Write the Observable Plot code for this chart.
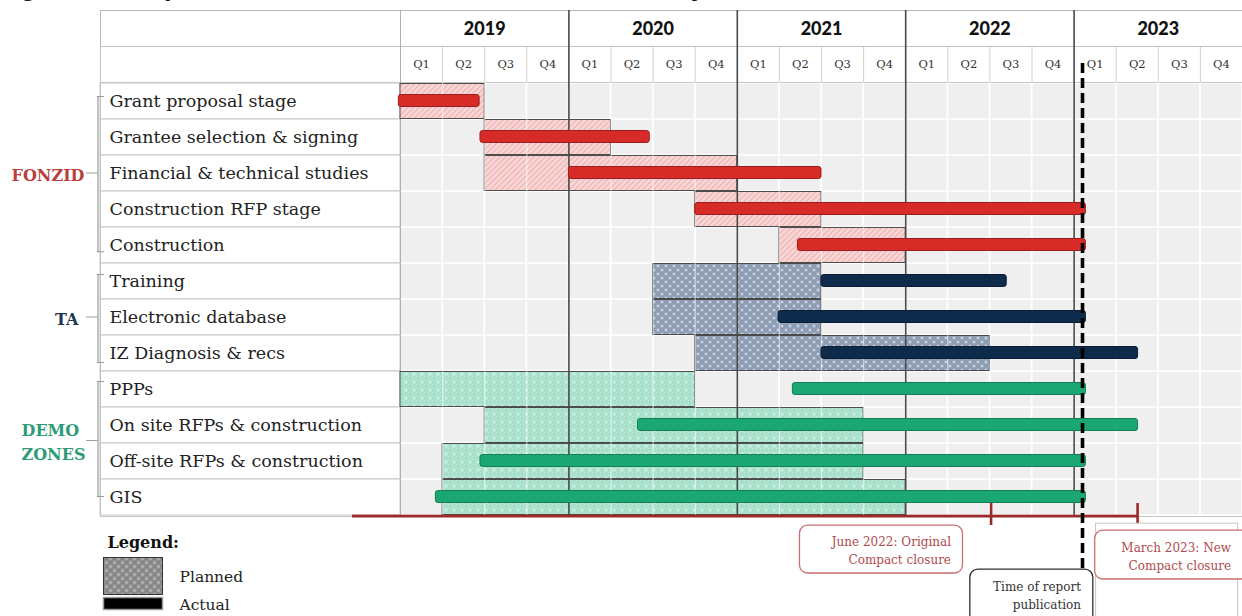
<!DOCTYPE html>
<html>
<head>
<meta charset="utf-8">
<script src="https://cdn.jsdelivr.net/npm/d3@7"></script>
<script src="https://cdn.jsdelivr.net/npm/@observablehq/plot@0.6"></script>
<style>
html,body{margin:0;padding:0;background:#fff;overflow:hidden;}
#wrap{position:relative;width:1242px;height:616px;overflow:hidden;}
#title{position:absolute;left:-4px;top:-27px;font:bold 27px "Liberation Sans",Arial,sans-serif;line-height:1;white-space:nowrap;color:#111;z-index:2;}
#chart{position:absolute;left:0;top:0;z-index:1;}
</style>
</head>
<body>
<div id="wrap">
<div id="title">Figure 12: Implementation timeline across each activity</div>
<div id="chart"></div>
</div>
<script>
// ---------------- data ----------------
const tasks = [
  "Grant proposal stage",
  "Grantee selection & signing",
  "Financial & technical studies",
  "Construction RFP stage",
  "Construction",
  "Training",
  "Electronic database",
  "IZ Diagnosis & recs",
  "PPPs",
  "On site RFPs & construction",
  "Off-site RFPs & construction",
  "GIS"
];
const taskGroup = ["FONZID","FONZID","FONZID","FONZID","FONZID","TA","TA","TA","DEMO","DEMO","DEMO","DEMO"];
// decimal years
const plannedStart = [2019.0, 2019.5, 2019.5, 2020.75, 2021.25, 2020.5, 2020.5, 2020.75, 2019.0, 2019.5, 2019.25, 2019.25];
const plannedEnd   = [2019.5, 2020.25, 2021.0, 2021.5, 2022.0, 2021.5, 2021.5, 2022.5, 2020.75, 2021.75, 2021.75, 2022.0];
const actualStart  = [2018.99, 2019.475, 2020.0, 2020.75, 2021.36, 2021.5, 2021.245, 2021.5, 2021.33, 2020.41, 2019.475, 2019.21];
const actualEnd    = [2019.47, 2020.48, 2021.5, 2023.07, 2023.07, 2022.6, 2023.07, 2023.38, 2023.07, 2023.38, 2023.07, 2023.07];

const years = [2019, 2020, 2021, 2022, 2023];
const quarterLabels = ["Q1", "Q2", "Q3", "Q4"];
const reportDate = 2023.05;
const timelineStart = 2018.715;
const milestones = [2022.51, 2023.38];
const milestoneLabels = ["June 2022: Original\nCompact closure", "March 2023: New\nCompact closure"];
const reportLabel = "Time of report\npublication";

const groupNames = ["FONZID", "TA", "DEMO"];
const groupLabels = ["FONZID", "TA", "DEMO\nZONES"];
const groupColors = ["#b83f3e", "#1f3553", "#2e9b76"];
const plannedFills = ["url(#pHatch)", "url(#pTA)", "url(#pDemo)"];
const actualFills = ["#d62b27", "#0f2b4c", "#1ba774"];
const actualStrokes = ["#9c1f1d", "#0a1d33", "#137e57"];

const legendTitle = "Legend:";
const legendItems = ["Planned", "Actual"];

// ---------------- derived tables ----------------
const rows = tasks.map((t, i) => ({
  task: t, g: groupNames.indexOf(taskGroup[i]),
  ps: plannedStart[i], pe: plannedEnd[i], as: actualStart[i], ae: actualEnd[i]
}));
const quarterCells = years.flatMap(y => quarterLabels.map((q, k) => ({q: y + k / 4, label: q})));
const bgCells = tasks.flatMap(t => quarterCells.map(c => ({task: t, q: c.q})));
const innerQuarterBounds = quarterCells.map(c => c.q).filter(q => q % 1 !== 0);
const yearBounds = years.slice(1);

const W = 1242, H = 616, MT = 82, MB = 100, ML = 400;
const BW = (H - MT - MB) / tasks.length;
const lastTask = tasks[tasks.length - 1];
const serif = "DejaVu Serif";

// bracket geometry per group
const groupSpec = [
  {first: 0, last: 4, mid: 2, top: 13, bottom: 10.8, tickY: BW/2, labelDx: -316, anchor: "end", dy: 0},
  {first: 5, last: 7, mid: 6, top: 11, bottom: 8, tickY: BW/2, labelDx: -322, anchor: "end", dy: 0},
  {first: 8, last: 11, mid: 9, top: 10, bottom: 18, tickY: BW/2 + 15.4, labelDx: -379, anchor: "start", dy: 14.4}
];

const bracketMarks = groupSpec.flatMap((s, gi) => {
  const d = [gi];
  return [
    Plot.ruleX(d, {x: () => 2019, y1: () => tasks[s.first], y2: () => tasks[s.last], dx: -302.5,
      insetTop: s.top, insetBottom: s.bottom, stroke: "#8a8a8a", strokeWidth: 1}),
    Plot.barX(d, {x1: () => 2019, x2: () => 2019, y: () => tasks[s.first], fill: "#8a8a8a",
      insetLeft: -303, insetRight: 296, insetTop: s.top, insetBottom: BW - s.top - 1}),
    Plot.barX(d, {x1: () => 2019, x2: () => 2019, y: () => tasks[s.last], fill: "#8a8a8a",
      insetLeft: -303, insetRight: 296, insetTop: BW - s.bottom - 1, insetBottom: s.bottom}),
    Plot.barX(d, {x1: () => 2019, x2: () => 2019, y: () => tasks[s.mid], fill: "#8a8a8a",
      insetLeft: -314, insetRight: 302.5, insetTop: s.tickY - 0.5, insetBottom: BW - s.tickY - 0.5}),
    Plot.text(d, {x: () => 2019, y: () => tasks[s.mid], text: () => groupLabels[gi], dx: s.labelDx, dy: s.dy,
      textAnchor: s.anchor, fill: groupColors[gi], fontFamily: serif, fontWeight: "bold", fontSize: 16, lineHeight: 1.5})
  ];
});

const chart = Plot.plot({
  width: W, height: H,
  marginTop: MT, marginBottom: MB, marginLeft: ML, marginRight: 0,
  x: {domain: [2019, 2024], axis: null},
  y: {type: "band", domain: tasks, padding: 0, axis: null},
  color: {type: "identity"},
  style: {background: "white", overflow: "visible"},
  marks: [
    // label column cells
    Plot.barX(tasks, {x1: () => 2019, x2: () => 2019, y: d => d, insetLeft: -300, fill: "white", stroke: "#c6c6c6", strokeWidth: 1}),
    // grey grid cells
    Plot.barX(bgCells, {x1: "q", x2: d => d.q + 0.25, y: "task", fill: "#efefef", inset: 0.8}),
    // header quarter separators
    Plot.ruleX(innerQuarterBounds, {x: d => d, insetTop: -36, insetBottom: H - MT - MB, stroke: "#cfcfcf"}),
    // header frame lines
    Plot.frame({stroke: "#b8b8b8", insetTop: -72, insetLeft: -300}),
    Plot.frame({stroke: "#c4c4c4", insetTop: -36, insetLeft: -300}),
    Plot.frame({stroke: "#c4c4c4", insetLeft: -300}),
    Plot.ruleX([2019], {x: d => d, insetTop: -72, stroke: "#b0b0b0"}),
    // planned
    Plot.barX(rows, {x1: "ps", x2: "pe", y: "task", fill: d => plannedFills[d.g], stroke: "#3c3c3c", strokeWidth: 0.9, insetTop: 0.5, insetBottom: 0.5}),
    // white quarter lines over body
    Plot.ruleX(innerQuarterBounds, {x: d => d, stroke: "white", strokeWidth: 1.3, strokeOpacity: 0.55}),
    // year lines
    Plot.ruleX(yearBounds, {x: d => d, insetTop: -72, stroke: "#4a4a4a", strokeWidth: 1.6}),
    // bottom compact timeline
    Plot.barX([0], {x1: () => timelineStart, x2: () => milestones[1], y: () => lastTask, fill: "#9b2b2b", insetTop: BW - 0.5, insetBottom: -2.5}),
    Plot.barX(milestones, {x1: d => d, x2: d => d, y: () => lastTask, fill: "#9b2b2b", insetLeft: -1.3, insetRight: -1.3, insetTop: 24, insetBottom: -10}),
    // actual
    Plot.barX(rows, {x1: "as", x2: "ae", y: "task", fill: d => actualFills[d.g], stroke: d => actualStrokes[d.g], strokeWidth: 1, rx: 2.5, insetTop: 11.5, insetBottom: 12.5}),
    // report line
    Plot.ruleX([reportDate], {x: d => d, stroke: "#000", strokeWidth: 3.6, strokeDasharray: "10,5", insetTop: -19, insetBottom: -100}),
    // annotation panels
    Plot.barX([milestones[1]], {x1: d => d, x2: d => d, y: () => lastTask, fill: "white", stroke: "#c8c8c8", insetLeft: -42, insetRight: -100, insetTop: 44.2, insetBottom: -110}),
    Plot.barX([milestones[0]], {x1: d => d, x2: d => d, y: () => lastTask, fill: "white", stroke: "#cc6e70", strokeWidth: 1.3, rx: 8, insetLeft: -191.6, insetRight: 28.6, insetTop: 46.2, insetBottom: -58}),
    Plot.text([0], {x: () => milestones[0], y: () => lastTask, text: () => milestoneLabels[0], dx: -40.6, dy: 51.6, textAnchor: "end", fill: "#b04a4c", fontFamily: serif, fontSize: 12, lineHeight: 1.5}),
    Plot.barX([reportDate], {x1: d => d, x2: d => d, y: () => lastTask, fill: "white", stroke: "#2e2e2e", strokeWidth: 1.3, rx: 8, insetLeft: -112.2, insetRight: -10.8, insetTop: 90.2, insetBottom: -112}),
    Plot.text([0], {x: () => reportDate, y: () => lastTask, text: () => reportLabel, dx: -1.5, dy: 97, textAnchor: "end", fill: "#333", fontFamily: serif, fontSize: 12, lineHeight: 1.5}),
    Plot.barX([milestones[1]], {x1: d => d, x2: d => d, y: () => lastTask, fill: "white", stroke: "#cc6e70", strokeWidth: 1.3, rx: 8, insetLeft: -42.9, insetRight: -115, insetTop: 51.2, insetBottom: -64}),
    Plot.text([0], {x: () => milestones[1], y: () => lastTask, text: () => milestoneLabels[1], dx: 93, dy: 58, textAnchor: "end", fill: "#b04a4c", fontFamily: serif, fontSize: 12, lineHeight: 1.5}),
    // header text
    Plot.text(years, {x: d => d + 0.5, text: d => String(d), frameAnchor: "top", lineAnchor: "middle", dy: -53, fontFamily: "Lato", fontWeight: 900, fontSize: 18, fill: "#111"}),
    Plot.text(quarterCells, {x: d => d.q + 0.125, text: "label", frameAnchor: "top", lineAnchor: "middle", dy: -18, fontFamily: serif, fontSize: 11.5, fill: "#333"}),
    // row labels
    Plot.text(tasks, {x: () => 2019, y: d => d, text: d => d, dx: -291, textAnchor: "start", fontFamily: serif, fontSize: 17.5, fill: "#222"}),
    // groups & brackets
    ...bracketMarks,
    // legend
    Plot.text([legendTitle], {text: d => d, frameAnchor: "bottom-left", lineAnchor: "middle", dx: -293, dy: 26, textAnchor: "start", fontFamily: serif, fontWeight: "bold", fontSize: 16, fill: "#111"}),
    Plot.frame({fill: "url(#pLegend)", stroke: "#333", insetLeft: -297, insetRight: W - 162, insetTop: 475, insetBottom: -78}),
    Plot.frame({fill: "#000", stroke: "#9a9a9a", strokeWidth: 1.5, insetLeft: -297, insetRight: W - 162, insetTop: 515, insetBottom: -93}),
    Plot.text([legendItems[0]], {text: d => d, frameAnchor: "bottom-left", lineAnchor: "middle", dx: -221, dy: 61, textAnchor: "start", fontFamily: serif, fontSize: 15.5, fill: "#222"}),
    Plot.text([legendItems[1]], {text: d => d, frameAnchor: "bottom-left", lineAnchor: "middle", dx: -221, dy: 89, textAnchor: "start", fontFamily: serif, fontSize: 15.5, fill: "#222"})
  ]
});

// patterns
chart.insertAdjacentHTML("afterbegin", `
<defs>
  <pattern id="pHatch" width="4" height="4" patternUnits="userSpaceOnUse" patternTransform="rotate(45)">
    <rect width="4" height="4" fill="#f9d6d6"/>
    <line x1="0" y1="0" x2="0" y2="4" stroke="#e38b8b" stroke-width="1.1"/>
  </pattern>
  <pattern id="pTA" width="8" height="8" patternUnits="userSpaceOnUse">
    <rect width="8" height="8" fill="#8e9db4"/>
    <rect x="0" y="0" width="4" height="4" fill="#98a7bc"/>
    <rect x="4" y="4" width="4" height="4" fill="#98a7bc"/>
    <circle cx="2" cy="2" r="0.9" fill="#e4eaf2"/>
    <circle cx="6" cy="6" r="0.9" fill="#e4eaf2"/>
  </pattern>
  <pattern id="pDemo" width="8" height="8" patternUnits="userSpaceOnUse">
    <rect width="8" height="8" fill="#a9e0cc"/>
    <rect x="0" y="0" width="4" height="4" fill="#b6e6d4"/>
    <rect x="4" y="4" width="4" height="4" fill="#b6e6d4"/>
    <circle cx="2" cy="2" r="1" fill="#8fd0b8"/>
    <circle cx="6" cy="6" r="0.8" fill="#e6f6f0"/>
  </pattern>
  <pattern id="pLegend" width="8" height="8" patternUnits="userSpaceOnUse">
    <rect width="8" height="8" fill="#858585"/>
    <rect x="0" y="0" width="4" height="4" fill="#949494"/>
    <rect x="4" y="4" width="4" height="4" fill="#949494"/>
    <circle cx="2" cy="2" r="0.9" fill="#d6d6d6"/>
    <circle cx="6" cy="6" r="0.9" fill="#d6d6d6"/>
  </pattern>
</defs>`);
document.getElementById("chart").appendChild(chart);
</script>
</body>
</html>
